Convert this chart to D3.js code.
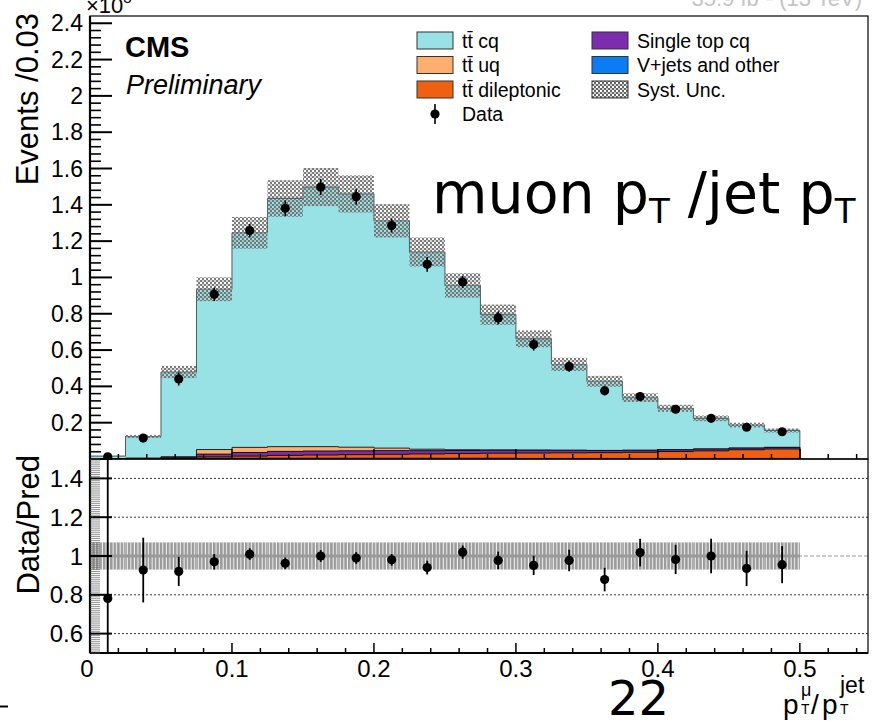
<!DOCTYPE html>
<html>
<head>
<meta charset="utf-8">
<script src="https://cdn.jsdelivr.net/npm/d3@7"></script>
<style>
  body { margin: 0; background: #fff; }
  svg { display: block; }
  text { font-family: "Liberation Sans", Arial, Helvetica, sans-serif; fill: #000; }
</style>
</head>
<body>
<svg id="chart" width="872" height="721"></svg>
<script>
// ---- histogram binning (p_T^mu / p_T^jet) ----
const binEdges = [0, 0.025, 0.05, 0.075, 0.1, 0.125, 0.15, 0.175, 0.2, 0.225, 0.25,
                  0.275, 0.3, 0.325, 0.35, 0.375, 0.4, 0.425, 0.45, 0.475, 0.5];

// ---- simulated contributions (events / bin, x10^3), stacked bottom -> top ----
const vjetsOther = [0.001, 0.002, 0.003, 0.004, 0.004, 0.004, 0.004, 0.004, 0.004, 0.004,
                    0.004, 0.004, 0.003, 0.003, 0.003, 0.003, 0.003, 0.003, 0.003, 0.003];
const ttDilep    = [0, 0, 0.002, 0.008, 0.012, 0.016, 0.018, 0.020, 0.022, 0.024,
                    0.026, 0.028, 0.030, 0.031, 0.032, 0.034, 0.038, 0.042, 0.048, 0.052];
const singleTop  = [0, 0.002, 0.005, 0.015, 0.020, 0.022, 0.022, 0.021, 0.020, 0.018,
                    0.017, 0.016, 0.015, 0.014, 0.012, 0.011, 0.010, 0.010, 0.009, 0.009];
const ttUq       = [0, 0, 0.002, 0.025, 0.028, 0.026, 0.024, 0.020, 0.014, 0.008,
                    0.004, 0.002, 0.001, 0, 0, 0, 0, 0, 0, 0];
const ttCq       = [0.015, 0.120, 0.467, 0.883, 1.182, 1.367, 1.430, 1.395, 1.252, 1.086,
                    0.905, 0.745, 0.613, 0.473, 0.381, 0.290, 0.228, 0.169, 0.127, 0.093];

// relative systematic uncertainty on the total prediction
const systRel    = [0.07, 0.07, 0.07, 0.07, 0.07, 0.07, 0.07, 0.07, 0.07, 0.07,
                    0.07, 0.07, 0.07, 0.07, 0.07, 0.07, 0.07, 0.07, 0.07, 0.07];

// ---- observed data ----
const dataVal = [0.0125, 0.115, 0.441, 0.907, 1.258, 1.381, 1.498, 1.445, 1.286, 1.072,
                 0.975, 0.777, 0.630, 0.509, 0.376, 0.344, 0.274, 0.224, 0.175, 0.150];
const dataErr = [0.013, 0.0207, 0.036, 0.037, 0.037, 0.043, 0.045, 0.044, 0.039, 0.040,
                 0.033, 0.036, 0.033, 0.029, 0.026, 0.024, 0.021, 0.020, 0.017, 0.015];

// ---- axis ticks ----
const xMajor = [0, 0.1, 0.2, 0.3, 0.4, 0.5];
const xTickLabels = ["0", "0.1", "0.2", "0.3", "0.4", "0.5"];
const yUpperLabels = [0.2, 0.4, 0.6, 0.8, 1, 1.2, 1.4, 1.6, 1.8, 2, 2.2, 2.4];
const yRatioLabels = [0.6, 0.8, 1, 1.2, 1.4];

const components = [
  { name: "V+jets and other", values: vjetsOther, fill: "#0b7cf4", stroke: "#111" },
  { name: "tt\u0304 dileptonic", values: ttDilep, fill: "#ee6012", stroke: "#111" },
  { name: "Single top cq", values: singleTop, fill: "#7b2dae", stroke: "#111" },
  { name: "tt\u0304 uq", values: ttUq, fill: "#fdb06e", stroke: "#222" },
  { name: "tt\u0304 cq", values: ttCq, fill: "#98e2e6", stroke: "#4a5a5a" }
];

// ---- layout ----
const L = 90, R = 868, T = 16, M = 459, B = 653;
const svg = d3.select("#chart");
const x = d3.scaleLinear().domain([0, 0.548]).range([L, R]);
const yU = d3.scaleLinear().domain([0, 2.44]).range([M, T]);
const yR = d3.scaleLinear().domain([0.5, 1.5]).range([B, M]);
const fmt = d3.format("~g");

const nBins = binEdges.length - 1;
const bins = d3.range(nBins);
const total = bins.map(i => d3.sum(components, c => c.values[i]));

// ---- patterns ----
const defs = svg.append("defs");
const chk = defs.append("pattern").attr("id", "systHatch")
  .attr("patternUnits", "userSpaceOnUse").attr("width", 4).attr("height", 4);
chk.append("rect").attr("x", 0).attr("y", 0).attr("width", 2).attr("height", 2).attr("fill", "#666");
chk.append("rect").attr("x", 2).attr("y", 2).attr("width", 2).attr("height", 2).attr("fill", "#666");
chk.append("rect").attr("x", 2).attr("y", 0).attr("width", 2).attr("height", 2).attr("fill", "#aaa").attr("fill-opacity", 0.6);

const vstripe = defs.append("pattern").attr("id", "ratioHatch")
  .attr("patternUnits", "userSpaceOnUse").attr("width", 3.55).attr("height", 10);
vstripe.append("rect").attr("width", 3.55).attr("height", 10).attr("fill", "#f2f2f2");
vstripe.append("rect").attr("width", 2.5).attr("height", 10).attr("fill", "#9a9a9a");

defs.append("clipPath").attr("id", "ratioClip")
  .append("rect").attr("x", L).attr("y", M).attr("width", R - L).attr("height", B - M);
defs.append("clipPath").attr("id", "upperClip")
  .append("rect").attr("x", L).attr("y", T).attr("width", R - L).attr("height", M - T);

// ---- upper panel: stacked histogram ----
const upper = svg.append("g").attr("clip-path", "url(#upperClip)");
let cum = bins.map(() => 0);
const cumulative = components.map(c => {
  cum = cum.map((v, i) => v + c.values[i]);
  return cum.slice();
});

const stepPts = vals => bins.map(i => ({ e: binEdges[i], v: vals[i] }))
  .concat([{ e: binEdges[nBins], v: vals[nBins - 1] }]);
const area = d3.area().curve(d3.curveStepAfter)
  .x(d => x(d.e)).y0(yU(0)).y1(d => yU(d.v));
const line = d3.line().curve(d3.curveStepAfter)
  .x(d => x(d.e)).y(d => yU(d.v));

for (let k = components.length - 1; k >= 0; k--) {
  const pts = stepPts(cumulative[k]);
  upper.append("path").attr("d", area(pts)).attr("fill", components[k].fill);
  const outline = [{ e: binEdges[0], v: 0 }].concat(pts, [{ e: binEdges[nBins], v: 0 }]);
  upper.append("path").attr("d", line(outline)).attr("fill", "none")
    .attr("stroke", components[k].stroke).attr("stroke-width", 1);
}

// systematic band
upper.append("g").selectAll("rect").data(bins).join("rect")
  .attr("x", i => x(binEdges[i]))
  .attr("width", i => x(binEdges[i + 1]) - x(binEdges[i]))
  .attr("y", i => yU(total[i] * (1 + systRel[i])))
  .attr("height", i => yU(total[i] * (1 - systRel[i])) - yU(total[i] * (1 + systRel[i])))
  .attr("fill", "url(#systHatch)").attr("opacity", 0.85);

// data points
const centers = bins.map(i => (binEdges[i] + binEdges[i + 1]) / 2);
upper.append("g").selectAll("line").data(bins).join("line")
  .attr("x1", i => x(centers[i])).attr("x2", i => x(centers[i]))
  .attr("y1", i => yU(dataVal[i] - dataErr[i])).attr("y2", i => yU(dataVal[i] + dataErr[i]))
  .attr("stroke", "#000").attr("stroke-width", 1.6);
upper.append("g").selectAll("circle").data(bins).join("circle")
  .attr("cx", i => x(centers[i])).attr("cy", i => yU(dataVal[i])).attr("r", 4.6).attr("fill", "#000");

// ---- ratio panel ----
const ratio = svg.append("g").attr("clip-path", "url(#ratioClip)");
ratio.append("line").attr("x1", L).attr("x2", R).attr("y1", yR(1)).attr("y2", yR(1))
  .attr("stroke", "#999").attr("stroke-width", 1).attr("stroke-dasharray", "4,2");
ratio.append("g").selectAll("rect").data(bins).join("rect")
  .attr("x", i => x(binEdges[i]))
  .attr("width", i => x(binEdges[i + 1]) - x(binEdges[i]))
  .attr("y", i => yR(1 + systRel[i]))
  .attr("height", i => yR(1 - systRel[i]) - yR(1 + systRel[i]))
  .attr("fill", "url(#ratioHatch)");
ratio.append("line").attr("x1", x(binEdges[0])).attr("x2", x(binEdges[nBins]))
  .attr("y1", yR(1)).attr("y2", yR(1)).attr("stroke", "#9a9a9a").attr("stroke-width", 3);

ratio.append("g").selectAll("line").data([0.6, 0.8, 1.2, 1.4]).join("line")
  .attr("x1", L).attr("x2", R).attr("y1", d => yR(d)).attr("y2", d => yR(d))
  .attr("stroke", "#333").attr("stroke-width", 1).attr("stroke-dasharray", "2,2");

const rVal = bins.map(i => dataVal[i] / total[i]);
const rErr = bins.map(i => dataErr[i] / total[i]);
ratio.append("g").selectAll("line").data(bins).join("line")
  .attr("x1", i => x(centers[i])).attr("x2", i => x(centers[i]))
  .attr("y1", i => yR(rVal[i] - rErr[i])).attr("y2", i => yR(rVal[i] + rErr[i]))
  .attr("stroke", "#000").attr("stroke-width", 1.8);
ratio.append("g").selectAll("circle").data(bins).join("circle")
  .attr("cx", i => x(centers[i])).attr("cy", i => yR(rVal[i])).attr("r", 4.6).attr("fill", "#000");

// ---- frames ----
const frame = svg.append("g").attr("fill", "none").attr("stroke", "#000");
frame.append("rect").attr("x", L).attr("y", T).attr("width", R - L).attr("height", M - T).attr("stroke-width", 1.2);
frame.append("rect").attr("x", L).attr("y", M).attr("width", R - L).attr("height", B - M).attr("stroke-width", 1.2);
frame.append("line").attr("x1", L).attr("x2", L).attr("y1", T).attr("y2", B).attr("stroke-width", 2.2);
frame.append("line").attr("x1", L).attr("x2", R).attr("y1", B).attr("y2", B).attr("stroke-width", 2);

// ---- ticks ----
const ticks = svg.append("g").attr("stroke", "#000");
// upper y axis
d3.range(0, 61).map(k => k * 0.04).filter(v => v <= 2.44).forEach((v, k) => {
  const major = k % 5 === 0;
  ticks.append("line").attr("x1", L).attr("x2", L + (major ? 22 : 11))
    .attr("y1", yU(v)).attr("y2", yU(v)).attr("stroke-width", major ? 2 : 1.6);
});
// ratio y axis: dense minor ticks every 0.01, majors every 0.2
d3.range(50, 151).forEach(k => {
  const v = k / 100;
  const major = k % 20 === 0;
  ticks.append("line").attr("x1", L).attr("x2", L + (major ? 22 : 10))
    .attr("y1", yR(v)).attr("y2", yR(v))
    .attr("stroke", major ? "#000" : "#666").attr("stroke-width", major ? 2 : 0.7);
});
// x axes (bottom of both panels)
d3.range(0, 28).map(k => k * 0.02).forEach((v, k) => {
  const major = k % 5 === 0;
  [M, B].forEach(yb => {
    ticks.append("line").attr("x1", x(v)).attr("x2", x(v))
      .attr("y1", yb).attr("y2", yb - (major ? 10 : 5)).attr("stroke-width", 1.5);
  });
});

// ---- tick labels ----
svg.append("g").selectAll("text").data(yUpperLabels).join("text")
  .attr("x", 83).attr("y", d => yU(d) + 8).attr("text-anchor", "end")
  .attr("font-size", 23).text(d => fmt(d));
svg.append("g").selectAll("text").data(yRatioLabels).join("text")
  .attr("x", 83).attr("y", d => yR(d) + 8.5).attr("text-anchor", "end")
  .attr("font-size", 24).text(d => fmt(d));
svg.append("g").selectAll("text").data(xMajor).join("text")
  .attr("x", (d, i) => x(d) - (i === 0 ? 3 : 0)).attr("y", 677).attr("text-anchor", "middle")
  .attr("font-size", 24).text((d, i) => xTickLabels[i]);

// ---- axis titles ----
svg.append("text").attr("transform", "translate(38,13) rotate(-90)")
  .attr("text-anchor", "end").attr("font-size", 31).text("Events /0.03");
svg.append("text").attr("transform", "translate(39,455) rotate(-90)")
  .attr("text-anchor", "end").attr("font-size", 31).text("Data/Pred");

// x title: p_T^mu / p_T^jet, each piece placed explicitly
const xTitle = svg.append("g");
[
  { t: "p",      x: 783, y: 714, s: 28 },
  { t: "\u03bc", x: 801, y: 696, s: 18 },
  { t: "T",      x: 801, y: 714, s: 14 },
  { t: "/",      x: 811, y: 714, s: 28 },
  { t: "p",      x: 822, y: 714, s: 28 },
  { t: "jet",    x: 840, y: 693, s: 23 },
  { t: "T",      x: 840, y: 714, s: 14 }
].forEach(p => xTitle.append("text").attr("x", p.x).attr("y", p.y).attr("font-size", p.s).text(p.t));

// exponent of the y axis and header text above the frame
const ex = svg.append("text").attr("x", 86).attr("y", 13).attr("font-size", 22);
ex.append("tspan").text("\u00d710");
ex.append("tspan").attr("font-size", 15).attr("dy", -10).text("3");
svg.append("text").attr("x", 862).attr("y", 6).attr("text-anchor", "end")
  .attr("font-size", 22).style("fill", "#c4c4c4").text("35.9 fb\u207b\u00b9 (13 TeV)");

// ---- CMS label ----
svg.append("text").attr("x", 125).attr("y", 57).attr("font-size", 29)
  .attr("font-weight", "bold").text("CMS");
svg.append("text").attr("x", 126).attr("y", 94).attr("font-size", 27)
  .attr("font-style", "italic").text("Preliminary");

// ---- legend ----
const legend = svg.append("g");
const legendItems = [
  { label: "tt\u0304 cq", fill: "#98e2e6", col: 0, row: 0 },
  { label: "tt\u0304 uq", fill: "#fdb06e", col: 0, row: 1 },
  { label: "tt\u0304 dileptonic", fill: "#ee6012", col: 0, row: 2 },
  { label: "Data", marker: true, col: 0, row: 3 },
  { label: "Single top cq", fill: "#7b2dae", col: 1, row: 0 },
  { label: "V+jets and other", fill: "#0b7cf4", col: 1, row: 1 },
  { label: "Syst. Unc.", fill: "url(#systHatch)", col: 1, row: 2 }
];
const colX = [417, 592], rowY = [40.5, 65, 89.5, 114];
legendItems.forEach(d => {
  const cx = colX[d.col], cy = rowY[d.row];
  if (d.marker) {
    legend.append("line").attr("x1", cx + 18).attr("x2", cx + 18).attr("y1", cy - 10).attr("y2", cy + 10)
      .attr("stroke", "#000").attr("stroke-width", 1.6);
    legend.append("circle").attr("cx", cx + 18).attr("cy", cy).attr("r", 4.6).attr("fill", "#000");
  } else {
    legend.append("rect").attr("x", cx).attr("y", cy - 8.5).attr("width", 36).attr("height", 17)
      .attr("fill", d.fill).attr("stroke", "#333").attr("stroke-width", 1);
  }
  legend.append("text").attr("x", cx + 45).attr("y", cy + 7).attr("font-size", 19.5).text(d.label);
});

// ---- annotation text ----
const ann = svg.append("text").attr("x", 432).attr("y", 213)
  .style("font-family", "'DejaVu Sans', sans-serif").attr("font-size", 57);
ann.append("tspan").text("muon p");
ann.append("tspan").attr("font-size", 34).attr("dy", 10).text("T");
ann.append("tspan").attr("dy", -10).text(" /jet p");
ann.append("tspan").attr("font-size", 34).attr("dy", 10).text("T");

svg.append("text").attr("x", 608).attr("y", 715)
  .style("font-family", "'DejaVu Sans', sans-serif").attr("font-size", 48).text("22");

svg.append("line").attr("x1", 0).attr("x2", 8).attr("y1", 706.5).attr("y2", 706.5)
  .attr("stroke", "#000").attr("stroke-width", 2);
</script>
</body>
</html>
